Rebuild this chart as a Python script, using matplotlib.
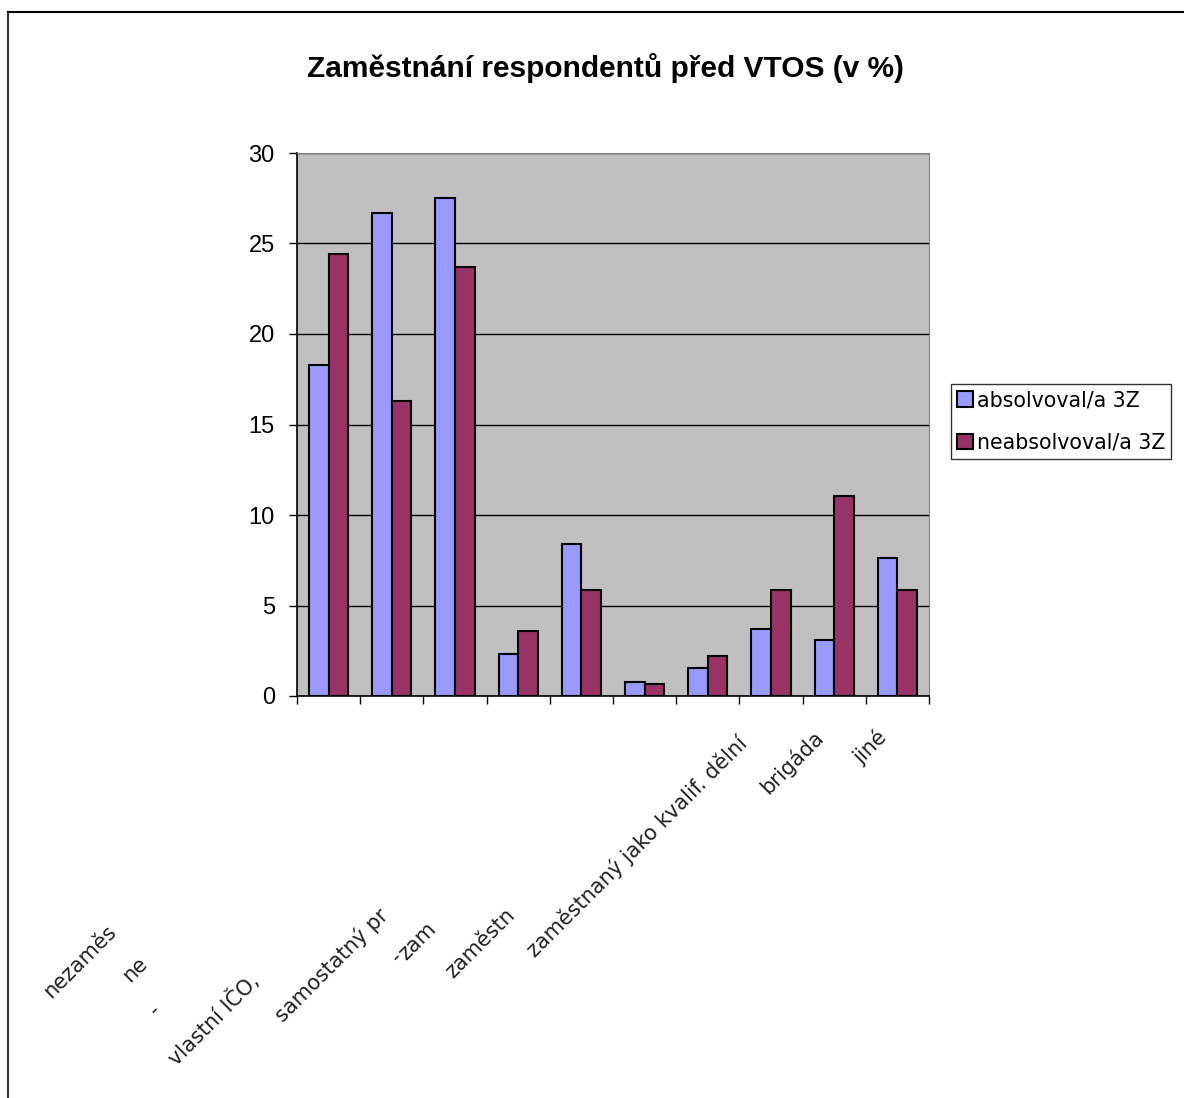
import numpy as np
import matplotlib
matplotlib.use('Agg')
import matplotlib.pyplot as plt
from matplotlib.lines import Line2D

plt.rcParams['font.family'] = ['Liberation Sans', 'DejaVu Sans']

# data (v %)
categories = ['nezaměstnaný/á', 'na mateřské', 'vlastní IČO', 'samostatný pracovník',
              'zaměstnaný 1', 'zaměstnaný 2', 'zaměstnaný 3',
              'zaměstnaný jako kvalif. dělník', 'brigáda', 'jiné']
absolvoval = [18.3, 26.7, 27.5, 2.3, 8.4, 0.75, 1.55, 3.7, 3.1, 7.6]
neabsolvoval = [24.4, 16.3, 23.7, 3.6, 5.85, 0.65, 2.2, 5.85, 11.05, 5.85]
series_names = ['absolvoval/a 3Z', 'neabsolvoval/a 3Z']
title = 'Zaměstnání respondentů před VTOS (v %)'

# x labels are clipped/garbled in the original export – keep the visible fragments
label_fragments = ['nezaměs', 'ne', '-', 'vlastní IČO, ', 'samostatný pr', '-',
                   'zam', 'zaměstn', 'zaměstnaný jako kvalif. dělní', 'brigáda', 'jiné']
# centre of each fragment in pixels (x, y from top)
fragment_pos = [(80, 962), (135, 970), (155, 1010), (216, 1017), (332, 965), (397, 957),
                (417, 941), (480, 943), (637, 847), (792, 762), (870, 747)]

W, H = 1184, 1098
fig = plt.figure(figsize=(W / 100, H / 100), dpi=100)
fig.patch.set_facecolor('white')

ax = fig.add_axes([297 / W, 1 - 696 / H, 632 / W, 543 / H])
ax.set_facecolor('#C0C0C0')

x = np.arange(len(categories))
bw = 0.31
ax.bar(x - bw / 2, absolvoval, bw, color='#9999FF', edgecolor='black', linewidth=1.5,
       label=series_names[0], zorder=3)
ax.bar(x + bw / 2, neabsolvoval, bw, color='#993366', edgecolor='black', linewidth=1.5,
       label=series_names[1], zorder=3)

ax.set_xlim(-0.5, len(categories) - 0.5)
ax.set_ylim(0, 30)
ax.set_yticks(range(0, 31, 5))
ax.yaxis.grid(True, color='black', linewidth=1, zorder=1)
ax.set_xticks(np.arange(len(categories) + 1) - 0.5)
ax.set_xticklabels([])
ax.tick_params(axis='both', direction='out', length=6, width=1, colors='black')
ax.tick_params(axis='y', pad=10, labelsize=17)

for side in ['top', 'right']:
    ax.spines[side].set_color('#808080')
for side in ['left', 'bottom']:
    ax.spines[side].set_color('black')
    ax.spines[side].set_linewidth(1.2)

for txt, (px, py) in zip(label_fragments, fragment_pos):
    fig.text(px / W, 1 - py / H, txt, rotation=45, ha='center', va='center',
             rotation_mode='anchor', fontsize=15, color='#222222',
             family=['DejaVu Sans'])

fig.text(605 / W, 1 - 68 / H, title, ha='center', va='center', fontsize=21.5,
         fontweight='bold')

leg = fig.legend(loc='upper left', bbox_to_anchor=(951 / W, 1 - 384 / H),
                 prop={'family': 'DejaVu Sans', 'size': 14.8},
                 frameon=True, fancybox=False, edgecolor='black',
                 handlelength=0.75, handleheight=0.75, handletextpad=0.2,
                 borderpad=0.3, labelspacing=1.1, borderaxespad=0)
leg.get_frame().set_linewidth(1)

# chart area frame (runs off the right and bottom edge)
fig.add_artist(Line2D([8 / W, 8 / W], [0, 1 - 12 / H], color='#333333', linewidth=1.5))
fig.add_artist(Line2D([8 / W, 1], [1 - 12 / H, 1 - 12 / H], color='black', linewidth=1.5))

fig.savefig('out.png', dpi=100)
